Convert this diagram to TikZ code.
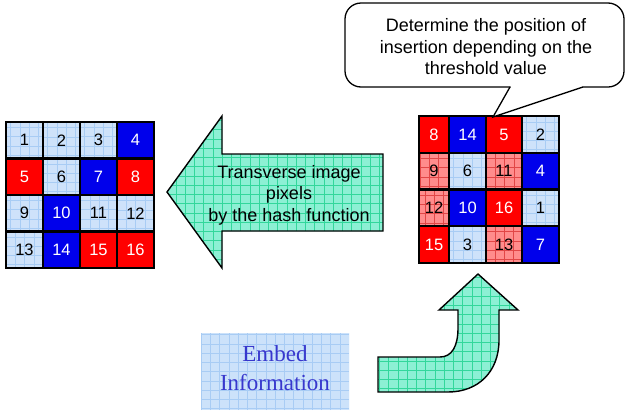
\documentclass[tikz,border=0pt]{standalone}
\usepackage{fontspec}
\setmainfont{Liberation Sans}
\newfontfamily\embedfont{Liberation Serif}
\definecolor{cred}{RGB}{255,0,0}
\definecolor{cblue}{RGB}{0,0,235}
\definecolor{clight}{RGB}{206,226,250}
\definecolor{clightline}{RGB}{168,204,244}
\definecolor{cpink}{RGB}{255,140,140}
\definecolor{cpinkline}{RGB}{225,70,70}
\definecolor{caqua}{RGB}{140,240,212}
\definecolor{caqualine}{RGB}{50,215,155}
\definecolor{cembedtext}{RGB}{55,55,205}
\definecolor{cembedbg}{RGB}{204,226,250}
\begin{document}
\begin{tikzpicture}[x=1pt,y=-1pt,
  gridfill/.style 2 args={fill=#1, path picture={\draw[#2, line width=0.5pt, step=9.25pt] (path picture bounding box.south west) grid (path picture bounding box.north east);}},
  cellbase/.style={inner sep=0pt, font=\fontsize{16.5}{18}\selectfont},
  cellborder/.style={draw=black, line width=1.8pt},
  bigarrow/.style={draw=black, line width=1.4pt, gridfill={caqua}{caqualine}},
  msg/.style={font=\fontsize{18}{21.5}\selectfont, align=center, inner sep=0pt}
]
\useasboundingbox (0,0) rectangle (626,410);

% left grid
\foreach \c/\r/\f/\g/\tc/\n in {
  0/0/clight/clightline/black/1, 1/0/clight/clightline/black/2, 2/0/clight/clightline/black/3, 3/0/cblue/cblue/white/4,
  0/1/cred/cred/white/5, 1/1/clight/clightline/black/6, 2/1/cblue/cblue/white/7, 3/1/cred/cred/white/8,
  0/2/clight/clightline/black/9, 1/2/cblue/cblue/white/10, 2/2/clight/clightline/black/11, 3/2/clight/clightline/black/12,
  0/3/clight/clightline/black/13, 1/3/cblue/cblue/white/14, 2/3/cred/cred/white/15, 3/3/cred/cred/white/16}{
  \pgfmathsetmacro\xa{{6,43,80,117,154}[\c]}
  \pgfmathsetmacro\xb{{6,43,80,117,154}[\c+1]}
  \pgfmathsetmacro\ya{{122,158.5,195,231.5,268}[\r]}
  \pgfmathsetmacro\yb{{122,158.5,195,231.5,268}[\r+1]}
  \pgfmathsetmacro\cellw{\xb-\xa}
  \pgfmathsetmacro\cellh{\yb-\ya}
  \node[cellbase, gridfill={\f}{\g}, text=\tc, minimum width=\cellw pt, minimum height=\cellh pt] (L\n) at ({(\xa+\xb)/2},{(\ya+\yb)/2}) {\n};
}
\foreach \n in {1,...,16}{
  \draw[cellborder] (L\n.north west) rectangle (L\n.south east);
}

% right grid
\foreach \c/\r/\f/\g/\tc/\n in {
  0/0/cred/cred/white/8, 1/0/cblue/cblue/white/14, 2/0/cred/cred/white/5, 3/0/clight/clightline/black/2,
  0/1/cpink/cpinkline/black/9, 1/1/clight/clightline/black/6, 2/1/cpink/cpinkline/black/11, 3/1/cblue/cblue/white/4,
  0/2/cpink/cpinkline/black/12, 1/2/cblue/cblue/white/10, 2/2/cred/cred/white/16, 3/2/clight/clightline/black/1,
  0/3/cred/cred/white/15, 1/3/clight/clightline/black/3, 2/3/cpink/cpinkline/black/13, 3/3/cblue/cblue/white/7}{
  \pgfmathsetmacro\xa{{419,449,486,522,559}[\c]}
  \pgfmathsetmacro\xb{{419,449,486,522,559}[\c+1]}
  \pgfmathsetmacro\ya{{116,153,189.5,226,263}[\r]}
  \pgfmathsetmacro\yb{{116,153,189.5,226,263}[\r+1]}
  \pgfmathsetmacro\cellw{\xb-\xa}
  \pgfmathsetmacro\cellh{\yb-\ya}
  \node[cellbase, gridfill={\f}{\g}, text=\tc, minimum width=\cellw pt, minimum height=\cellh pt] (R\n) at ({(\xa+\xb)/2},{(\ya+\yb)/2}) {\n};
}
\foreach \n in {1,...,16}{
  \draw[cellborder] (R\n.north west) rectangle (R\n.south east);
}

% left arrow
\path[bigarrow] (167,192) -- (222,116) -- (222,154) -- (383,154) -- (383,231) -- (222,231) -- (222,268) -- cycle;
\node[msg] (hashtext) at (289,195) {Transverse image\\pixels\\by the hash function};

% callout
\draw[line width=1.3pt, fill=white, rounded corners=16pt] (345,3) rectangle (624,87);
\fill[white] (510.5,85) -- (510.5,88) -- (493,117) -- (582.5,88) -- (582.5,85) -- cycle;
\coordinate (tailA) at (510,87);
\coordinate (tailTip) at (493,117);
\coordinate (tailB) at (583,87);
\draw[line width=1.3pt, line join=miter] (tailA) -- (tailTip) -- (tailB);
\node[msg] (calltext) at (486,47) {Determine the position of\\insertion depending on the\\threshold value};

% embed box
\node[gridfill={cembedbg}{clightline}, minimum width=148pt, minimum height=77pt, inner sep=0pt, anchor=north west] (embedbox) at (201,333) {};
\node[font=\embedfont\fontsize{23}{29}\selectfont, text=cembedtext, align=center, inner sep=0pt] (embedtext) at (275,368) {Embed\\Information};

% curved arrow
\path[bigarrow] (378,357) -- (440,357) .. controls (452,357) and (458,346) .. (458,328) -- (458,310) -- (439,310) -- (478,274) -- (518,310) -- (499,310) -- (499,340) .. controls (499,372) and (478,392) .. (448,392) -- (378,392) -- cycle;
\end{tikzpicture}
\end{document}
